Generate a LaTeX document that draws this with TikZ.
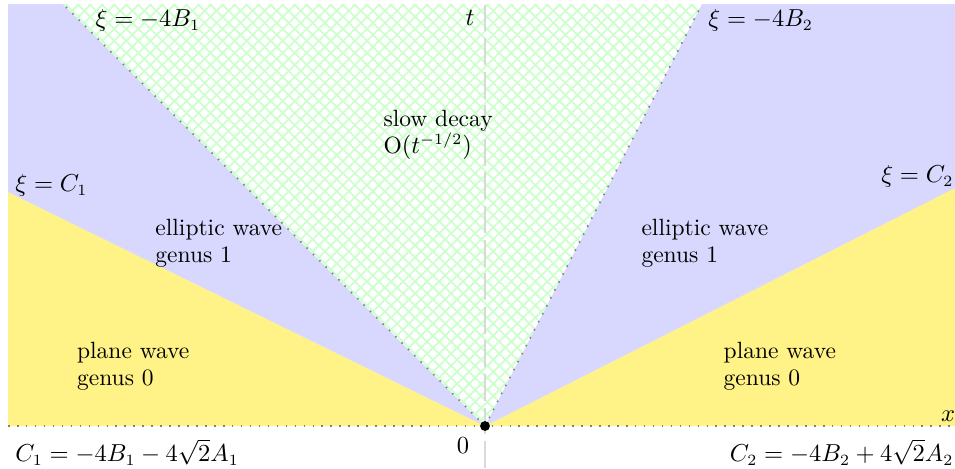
\documentclass[tikz,border=0pt]{standalone}
\usepackage{amsmath,amssymb}
\usepackage{tikz}
\usetikzlibrary{patterns.meta,positioning,calc}
\usepackage{xcolor}
\definecolor{planeyellow}{RGB}{255,242,134}
\definecolor{ellblue}{RGB}{216,216,255}

\begin{document}
\begin{tikzpicture}[lbl/.style={inner sep=0pt,align=left,font=\fontsize{10.5}{12.2}\selectfont},
  dots/.style={gray,line width=0.7pt,dash pattern=on 0.7pt off 3.3pt}]
\useasboundingbox (-7.614,-0.659) rectangle (7.378,6.688);
\coordinate (o) at (0,0);
\coordinate (bl) at (-7.488,0); \coordinate (br) at (7.378,0);
\coordinate (c1) at (-7.488,3.673); \coordinate (c2) at (7.378,3.736);
\coordinate (tl) at (-7.488,6.625); \coordinate (tr) at (7.378,6.625);
\coordinate (b1) at (-6.625,6.625); \coordinate (b2) at (3.407,6.625);
% regions
\fill[planeyellow] (o)--(bl)--(c1)--cycle;
\fill[planeyellow] (o)--(br)--(c2)--cycle;
\fill[ellblue] (o)--(c1)--(tl)--(b1)--cycle;
\fill[ellblue] (o)--(b2)--(tr)--(c2)--cycle;
\fill[pattern={Hatch[angle=45,distance=3.8pt,line width=0.8pt]},pattern color=green!20] (o)--(b1)--(b2)--cycle;
\draw[dots] (o)--(b1); \draw[dots] (o)--(b2);
% axes
\coordinate (ttop) at (0,6.625); \coordinate (tbot) at (0,-0.659);
\draw[gray!30,line width=1.3pt,dash pattern=on 12pt off 3pt] (tbot)--(ttop);
\draw[dots] (bl)--(br);
\fill (o) circle (2.2pt);
% labels
\node (lb1) [lbl,anchor=west] at (-6.12,6.37) {$\xi=-4B_1$};
\node (lb2) [lbl,anchor=west] at (3.50,6.37) {$\xi=-4B_2$};
\node (lt) [lbl] at (-0.235,6.40) {$t$};
\node (lx) [lbl] at (7.27,0.16) {$x$};
\node (l0) [lbl] at (-0.345,-0.31) {$0$};
\node (lc1) [lbl,anchor=west] at (-7.38,3.78) {$\xi=C_1$};
\node (lc2) [lbl,anchor=east] at (7.36,3.92) {$\xi=C_2$};
\node (slow) [lbl,anchor=west] at (-1.60,4.57) {slow decay\\O$(t^{-1/2})$};
\node (ell1) [lbl,anchor=west] at (-5.18,2.87) {elliptic wave\\genus 1};
\node (ell2) [lbl,anchor=west] at (2.45,2.87) {elliptic wave\\genus 1};
\node (pl1) [lbl,anchor=west] at (-6.41,0.94) {plane wave\\genus 0};
\node (pl2) [lbl,anchor=west] at (3.74,0.94) {plane wave\\genus 0};
\node (cc1) [lbl,anchor=west] at (-7.38,-0.41) {$C_1=-4B_1-4\sqrt{2}A_1$};
\node (cc2) [lbl,anchor=east] at (7.36,-0.41) {$C_2=-4B_2+4\sqrt{2}A_2$};
\end{tikzpicture}
\end{document}
